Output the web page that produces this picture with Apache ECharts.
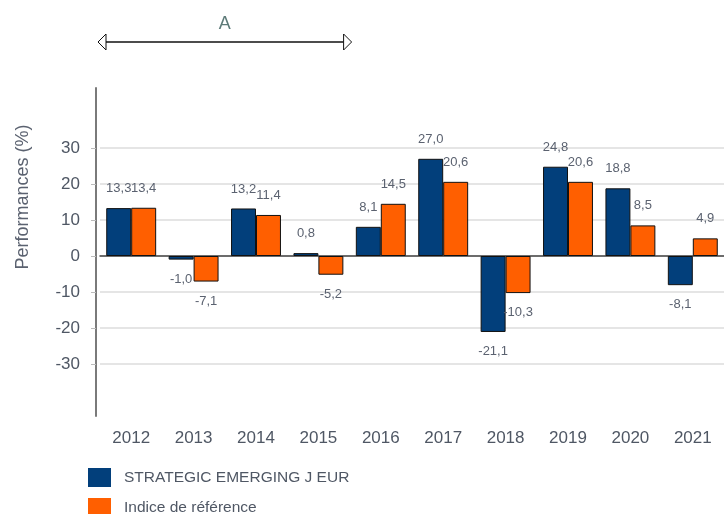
<!DOCTYPE html>
<html>
<head>
<meta charset="utf-8">
<script src="https://cdn.jsdelivr.net/npm/echarts@6/dist/echarts.min.js"></script>
<style>
    html, body { margin: 0; padding: 0; background: #fff; }
    #chart { width: 724px; height: 514px; }
</style>
</head>
<body>
<div id="chart"></div>
<script>
// ========= 数据 =========
const years = ["2012", "2013", "2014", "2015", "2016", "2017", "2018", "2019", "2020", "2021"];
const fundValues = [13.3, -1.0, 13.2, 0.8, 8.1, 27.0, -21.1, 24.8, 18.8, -8.1];
const indexValues = [13.4, -7.1, 11.4, -5.2, 14.5, 20.6, -10.3, 20.6, 8.5, 4.9];
const seriesNames = ["STRATEGIC EMERGING J EUR", "Indice de référence"];
const yTicks = [-30, -20, -10, 0, 10, 20, 30];
const periodA = ["2012", "2015"]; // 区间 A

const FONT = "Liberation Sans, Arial, sans-serif";
const TEXT = "#4f5764";

const chart = echarts.init(document.getElementById("chart"));

// 正数标签在上，负数标签在下
function withLabels(arr) {
    return arr.map(v => ({
        value: v,
        label: { position: v < 0 ? "bottom" : "top" }
    }));
}

function fmt(p) {
    return p.value.toFixed(1).replace(".", ",");
}

const barBase = {
    type: "bar",
    xAxisIndex: 1,
    yAxisIndex: 1,
    barGap: "0%",
    barCategoryGap: "20%",
    label: {
        show: true,
        distance: 13,
        fontSize: 13,
        fontFamily: FONT,
        color: "#5b6270",
        formatter: fmt
    }
};

chart.setOption({
    animation: false,
    textStyle: { fontFamily: FONT },
    legend: {
        orient: "vertical",
        left: 88,
        top: 468,
        height: 120,
        padding: 0,
        itemWidth: 23,
        itemHeight: 19,
        itemGap: 11,
        icon: "rect",
        itemStyle: { borderWidth: 0 },
        textStyle: { fontSize: 15.5, color: TEXT, padding: [0, 0, 0, 8] },
        data: seriesNames
    },
    grid: [
        { left: 100, width: 627, top: 88, bottom: 98 },   // 轴线 + 年份
        { left: 100, width: 627, top: 148, height: 216 }  // 数据区
    ],
    xAxis: [
        {
            type: "category",
            gridIndex: 0,
            data: years,
            position: "bottom",
            axisLine: { show: false },
            axisTick: { show: false },
            axisLabel: { fontSize: 17, color: TEXT, margin: 14 }
        },
        {
            type: "category",
            gridIndex: 1,
            data: years,
            axisLine: { onZero: true, lineStyle: { color: "#444", width: 1.5 } },
            axisTick: { show: false },
            axisLabel: { show: false }
        }
    ],
    yAxis: [
        {
            type: "value",
            gridIndex: 0,
            min: -44.4,
            max: 46.7,
            offset: 4,
            axisLine: { show: true, lineStyle: { color: "#7a7a7a", width: 2 } },
            axisTick: { show: false },
            axisLabel: { show: false },
            splitLine: { show: false }
        },
        {
            type: "value",
            gridIndex: 1,
            min: yTicks[0],
            max: yTicks[yTicks.length - 1],
            interval: 10,
            offset: 4,
            axisLine: { show: false },
            axisTick: { show: true, length: 5, lineStyle: { color: "#bbb" } },
            axisLabel: { fontSize: 17, color: TEXT, margin: 16 },
            splitLine: { show: true, lineStyle: { color: "#dcdcdc", width: 1.5 } }
        }
    ],
    series: [
        Object.assign({}, barBase, {
            name: seriesNames[0],
            data: withLabels(fundValues),
            itemStyle: { color: "#023f7b", borderColor: "#111", borderWidth: 1 }
        }),
        Object.assign({}, barBase, {
            name: seriesNames[1],
            data: withLabels(indexValues),
            itemStyle: { color: "#ff5f00", borderColor: "#111", borderWidth: 1 }
        })
    ]
});

// ========= 区间箭头 A + 轴标题 =========
const band = chart.convertToPixel({ xAxisIndex: 1 }, years[1]) - chart.convertToPixel({ xAxisIndex: 1 }, years[0]);
const x1 = chart.convertToPixel({ xAxisIndex: 1 }, periodA[0]) - band / 2 - 2;
const x2 = chart.convertToPixel({ xAxisIndex: 1 }, periodA[1]) + band / 2 + 2;
const ay = 42, ah = 8, aw = 8;

chart.setOption({
    graphic: [
        {
            type: "line",
            shape: { x1: x1 + aw, y1: ay, x2: x2 - aw, y2: ay },
            style: { stroke: "#111", lineWidth: 1.3 }
        },
        {
            type: "polygon",
            shape: { points: [[x1, ay], [x1 + aw, ay - ah], [x1 + aw, ay + ah]] },
            style: { fill: "#fff", stroke: "#111", lineWidth: 1 }
        },
        {
            type: "polygon",
            shape: { points: [[x2, ay], [x2 - aw, ay - ah], [x2 - aw, ay + ah]] },
            style: { fill: "#fff", stroke: "#111", lineWidth: 1 }
        },
        {
            type: "text",
            x: (x1 + x2) / 2,
            y: 24,
            style: {
                text: "A", fontSize: 18, fontFamily: FONT, fill: "#5d7a78",
                align: "center", verticalAlign: "middle"
            }
        },
        {
            type: "text",
            x: 23,
            y: 197,
            rotation: Math.PI / 2,
            style: {
                text: "Performances (%)", fontSize: 18, fontFamily: FONT, fill: "#5b6270",
                align: "center", verticalAlign: "middle"
            }
        }
    ]
});
</script>
</body>
</html>
